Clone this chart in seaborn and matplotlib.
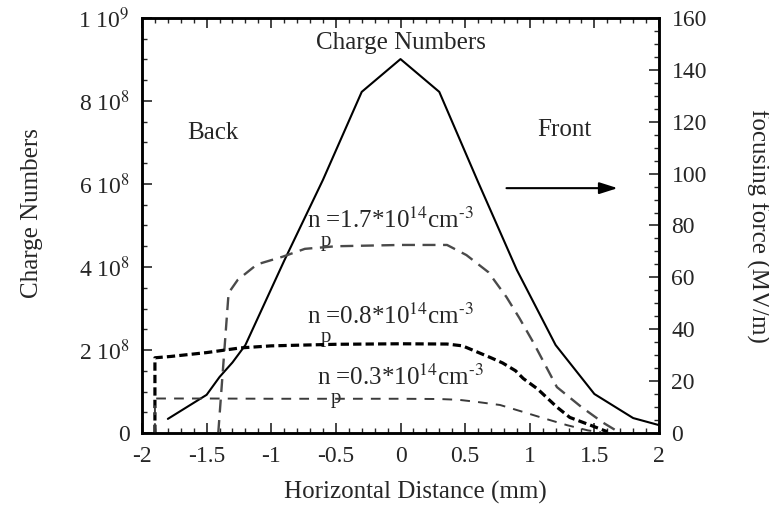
import matplotlib
matplotlib.use("Agg")
import matplotlib.pyplot as plt
from matplotlib.ticker import MultipleLocator
import seaborn as sns
import pandas as pd

# Charge numbers along the beam (left axis)
x_charge = [-1.8, -1.5, -1.4, -1.3, -1.2, -0.9, -0.6, -0.3, 0.0, 0.3, 0.6, 0.9,
            1.2, 1.5, 1.8, 2.0]
charge = [0.034e9, 0.092e9, 0.135e9, 0.17e9, 0.212e9, 0.415e9, 0.61e9, 0.822e9,
          0.901e9, 0.822e9, 0.605e9, 0.393e9, 0.212e9, 0.094e9, 0.036e9, 0.019e9]

# Focusing force (right axis, MV/m) for three plasma densities
x_np17 = [-1.41, -1.33, -1.26, -1.11, -0.91, -0.74, -0.5, 0.0, 0.36, 0.51, 0.68,
          0.82, 0.92, 1.03, 1.12, 1.21, 1.40, 1.57, 1.70]
f_np17 = [0, 54, 59, 65, 68, 71, 72, 72.5, 72.5, 68.6, 62, 52.4, 44.3, 34.7,
          26.2, 17.7, 10, 3.9, 0]

x_np08 = [-1.9, -1.9, -1.78, -1.5, -1.24, -1.0, -0.5, 0.0, 0.36, 0.48, 0.59,
          0.70, 0.79, 0.89, 0.95, 1.06, 1.21, 1.31, 1.47, 1.60]
f_np08 = [0, 29, 29.5, 31, 32.8, 33.6, 34.2, 34.4, 34.3, 33.6, 31.3, 29, 27,
          24, 21, 17, 10, 6, 3, 0.5]

x_np03 = [-1.9, -1.9, -1.5, -1.0, -0.5, 0.0, 0.3, 0.45, 0.59, 0.77, 0.95,
          1.10, 1.29, 1.45, 1.55]
f_np03 = [0, 13.3, 13.3, 13.2, 13.2, 13.2, 13.1, 12.8, 12, 10.8, 8.1, 5.8, 3,
          1, 0.3]

left_ticks = [0, 2e8, 4e8, 6e8, 8e8, 1e9]
left_labels = ["0", r"2 10$^{8}$", r"4 10$^{8}$", r"6 10$^{8}$", r"8 10$^{8}$", r"1 10$^{9}$"]
right_ticks = [0, 20, 40, 60, 80, 100, 120, 140, 160]
x_ticks = [-2, -1.5, -1, -0.5, 0, 0.5, 1, 1.5, 2]
x_labels = ["-2", "-1.5", "-1", "-0.5", "0", "0.5", "1", "1.5", "2"]

sns.set_style("ticks")
plt.rcParams["font.family"] = ["Liberation Serif", "DejaVu Serif"]
plt.rcParams["mathtext.fontset"] = "stix"

fig = plt.figure(figsize=(7.69, 5.11), dpi=100)
ax = fig.add_axes([142 / 769, 1 - 433 / 511, 517 / 769, 415 / 511])
ax2 = ax.twinx()

df_c = pd.DataFrame({"x": x_charge, "y": charge})
sns.lineplot(data=df_c, x="x", y="y", ax=ax, color="black", linewidth=1.5,
             estimator=None, sort=False)

for xs, fs, col, lw, dash in [
    (x_np17, f_np17, "#4a4a4a", 1.7, (5.5, 3.2)),
    (x_np08, f_np08, "black", 2.3, (2.6, 1.3)),
    (x_np03, f_np03, "#3a3a3a", 1.4, (5.0, 4.2)),
]:
    d = pd.DataFrame({"x": xs, "f": fs})
    sns.lineplot(data=d, x="x", y="f", ax=ax2, color=col, linewidth=lw,
                 estimator=None, sort=False, dashes=False,
                 linestyle=(0, dash))

ax.set_xlim(-2, 2)
ax.set_ylim(0, 1e9)
ax2.set_ylim(0, 160)

fs_tick = 17
ax.set_xticks(x_ticks)
ax.set_xticklabels(x_labels)
ax.xaxis.set_minor_locator(MultipleLocator(0.1))
ax.set_yticks(left_ticks)
ax.set_yticklabels(left_labels)
ax.yaxis.set_minor_locator(MultipleLocator(0.5e8))
ax2.set_yticks(right_ticks)
ax2.yaxis.set_minor_locator(MultipleLocator(5))

ax.tick_params(axis="both", which="major", direction="in", length=7, width=1.2,
               labelsize=fs_tick, top=True, right=False, pad=9)
ax.tick_params(axis="both", which="minor", direction="in", length=3.5, width=1.0,
               top=True, right=False)
ax2.tick_params(axis="y", which="major", direction="in", length=7, width=1.2,
                labelsize=fs_tick, pad=9)
ax2.tick_params(axis="y", which="minor", direction="in", length=3.5, width=1.0)

for a in (ax, ax2):
    for s in a.spines.values():
        s.set_linewidth(1.8)
        s.set_color("black")

ax.set_xlabel("Horizontal Distance (mm)", fontsize=18)
ax.set_ylabel("Charge Numbers", fontsize=18)
ax2.set_ylabel("focusing force (MV/m)", fontsize=18, rotation=270,
               va="center", ha="center")
ax.xaxis.set_label_coords(0.528, -0.115)
ax.yaxis.set_label_coords(-0.192, 0.53)
ax2.yaxis.set_label_coords(1.19, 0.50)

ax.text(0, 0.94e9, "Charge Numbers", fontsize=18, ha="center", va="center")
ax.text(-1.45, 0.723e9, "Back", fontsize=18, ha="center", va="center")
ax.text(1.265, 0.73e9, "Front", fontsize=18, ha="center", va="center")
ax.annotate("", xy=(1.68, 0.59e9), xytext=(0.82, 0.59e9),
            arrowprops=dict(arrowstyle="-|>,head_length=1.1,head_width=0.35",
                            color="black", lw=1.5, shrinkA=0, shrinkB=0))

# density labels: "n" with a lowered "p" subscript
for x0, y0, num in [(-0.724, 0.494e9, "1.7"), (-0.724, 0.263e9, "0.8"),
                    (-0.646, 0.116e9, "0.3")]:
    ax.text(x0, y0, "n =" + num + r"*10$^{14}$cm$^{\text{-}3}$", fontsize=18,
            ha="left", va="baseline")
    ax.annotate("p", xy=(x0, y0), xytext=(10, -13), textcoords="offset points",
                fontsize=15, ha="left", va="baseline")

fig.savefig("out.png", dpi=100, facecolor="white")
